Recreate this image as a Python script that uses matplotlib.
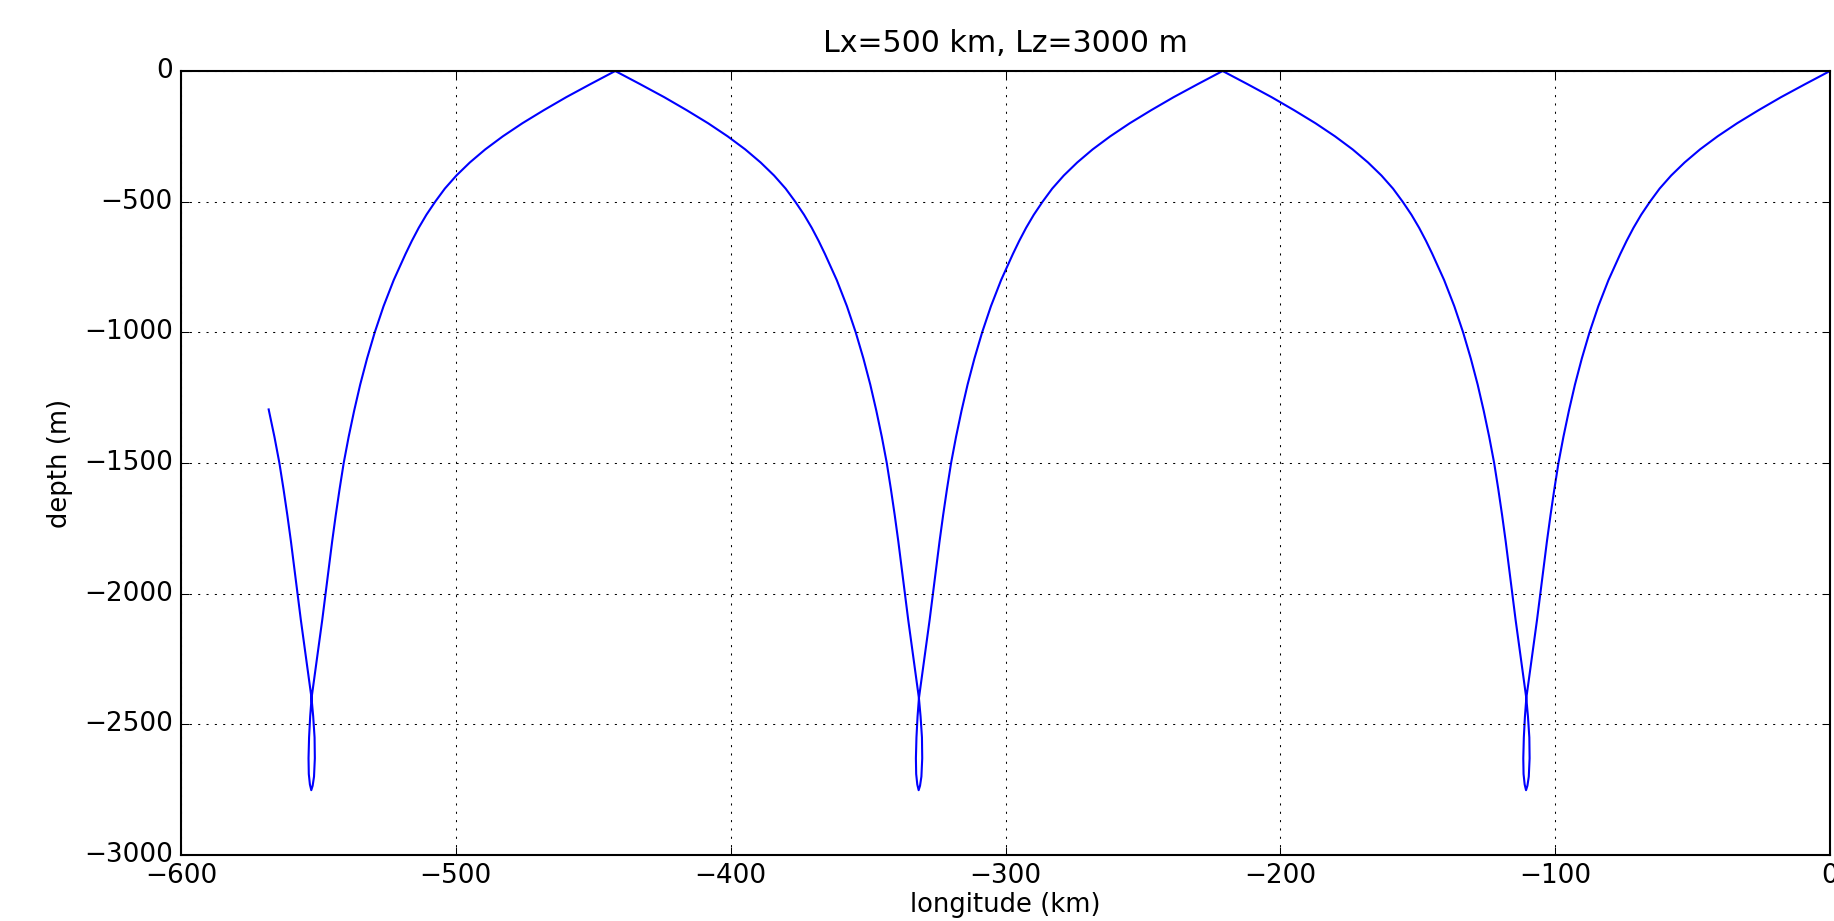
import matplotlib
matplotlib.use("Agg")
import matplotlib.pyplot as plt

plt.style.use('classic')
plt.rcParams['font.family'] = ['DejaVu Sans']

title = "Lx=500 km, Lz=3000 m"
xlabel = "longitude (km)"
ylabel = "depth (m)"
xticks = [-600, -500, -400, -300, -200, -100, 0]
yticks = [-3000, -2500, -2000, -1500, -1000, -500, 0]

# Ray path, segment by segment (km, m)
z_down0 = [0, -50, -100, -150, -200, -250, -300, -350, -400, -450, -500, -550, -600,
           -650, -700, -800, -900, -1000, -1100, -1200, -1300, -1400, -1500, -1600,
           -1700, -1800, -1900, -2000, -2100, -2200, -2300, -2400]
z_down = [-50, -100, -150, -200, -250, -300, -350, -400, -450, -500, -550, -600,
          -650, -700, -800, -900, -1000, -1100, -1200, -1300, -1400, -1500, -1600,
          -1700, -1800, -1900, -2000, -2100, -2200, -2300, -2400]
z_up = [-2300, -2200, -2100, -2000, -1900, -1800, -1700, -1600, -1500, -1400, -1300,
        -1200, -1100, -1000, -900, -800, -700, -650, -600, -550, -500, -450, -400,
        -350, -300, -250, -200, -150, -100, -50, 0]
loop_z = [-2470, -2550, -2630, -2690, -2730, -2752, -2735, -2700, -2630, -2550,
          -2470, -2400]

seg_a_x = [0, -9.0, -17.8, -26.0, -33.8, -40.9, -47.3, -52.9, -57.8, -62.0, -65.5,
           -68.7, -71.5, -74.0, -76.3, -80.6, -84.3, -87.5, -90.3, -92.8, -95.0,
           -97.0, -98.8, -100.3, -101.7, -103.0, -104.2, -105.4, -106.6, -107.9,
           -109.2, -110.5]
loop1_x = [-111.0, -111.4, -111.6, -111.5, -111.1, -110.6, -110.1, -109.6, -109.3,
           -109.4, -109.9, -110.5]
seg_b_x = [-111.8, -113.1, -114.4, -115.6, -116.8, -118.0, -119.3, -120.7, -122.2,
           -124.0, -126.0, -128.2, -130.7, -133.5, -136.7, -140.4, -144.7, -147.0,
           -149.5, -152.3, -155.5, -159.0, -163.2, -168.1, -173.7, -180.1, -187.2,
           -195.0, -203.2, -212.0, -221.0]
seg_c_x = [-230.0, -238.8, -247.0, -254.8, -261.9, -268.3, -273.9, -278.8, -283.0,
           -286.5, -289.7, -292.5, -295.0, -297.3, -301.6, -305.3, -308.5, -311.3,
           -313.8, -316.0, -318.0, -319.8, -321.3, -322.7, -324.0, -325.2, -326.4,
           -327.6, -328.9, -330.2, -331.5]
loop2_x = [-332.0, -332.4, -332.6, -332.5, -332.1, -331.6, -331.1, -330.6, -330.3,
           -330.4, -330.9, -331.5]
seg_d_x = [-332.8, -334.1, -335.4, -336.6, -337.8, -339.0, -340.3, -341.7, -343.2,
           -345.0, -347.0, -349.2, -351.7, -354.5, -357.7, -361.4, -365.7, -368.0,
           -370.5, -373.3, -376.5, -380.0, -384.2, -389.1, -394.7, -401.1, -408.2,
           -416.0, -424.2, -433.0, -442.0]
seg_e_x = [-451.0, -459.8, -468.0, -475.8, -482.9, -489.3, -494.9, -499.8, -504.0,
           -507.5, -510.7, -513.5, -516.0, -518.3, -522.6, -526.3, -529.5, -532.3,
           -534.8, -537.0, -539.0, -540.8, -542.3, -543.7, -545.0, -546.2, -547.4,
           -548.6, -549.9, -551.2, -552.5]
loop3_x = [-553.0, -553.4, -553.6, -553.5, -553.1, -552.6, -552.1, -551.6, -551.3,
           -551.4, -551.9, -552.5]
seg_f_x = [-553.8, -555.1, -556.4, -557.6, -558.8, -560.0, -561.3, -562.7, -564.2,
           -566.0, -568.1]
seg_f_z = [-2300, -2200, -2100, -2000, -1900, -1800, -1700, -1600, -1500, -1400,
           -1295]

ray_x = (seg_a_x + loop1_x + seg_b_x + seg_c_x + loop2_x + seg_d_x + seg_e_x
         + loop3_x + seg_f_x)
ray_z = (z_down0 + loop_z + z_up + z_down + loop_z + z_up + z_down
         + loop_z + seg_f_z)

fig = plt.figure(figsize=(1834 / 150, 921 / 150), dpi=150, facecolor='white')
ax = fig.add_axes([181 / 1834, 1 - 855 / 921, (1830 - 181) / 1834, (855 - 71) / 921])
ax.plot(ray_x, ray_z, color='b', linewidth=1.0)
ax.set_xlim(-600, 0)
ax.set_ylim(-3000, 0)
ax.set_xticks(xticks)
ax.set_yticks(yticks)
ax.grid(True, color='k', linestyle=':', linewidth=0.5)
ax.set_title(title, fontsize=14.4, pad=9)
ax.set_xlabel(xlabel, fontsize=12.4, labelpad=1.5)
ax.set_ylabel(ylabel, fontsize=12.4)
ax.tick_params(labelsize=12.6)

fig.savefig('out.png', dpi=150, facecolor='white')
